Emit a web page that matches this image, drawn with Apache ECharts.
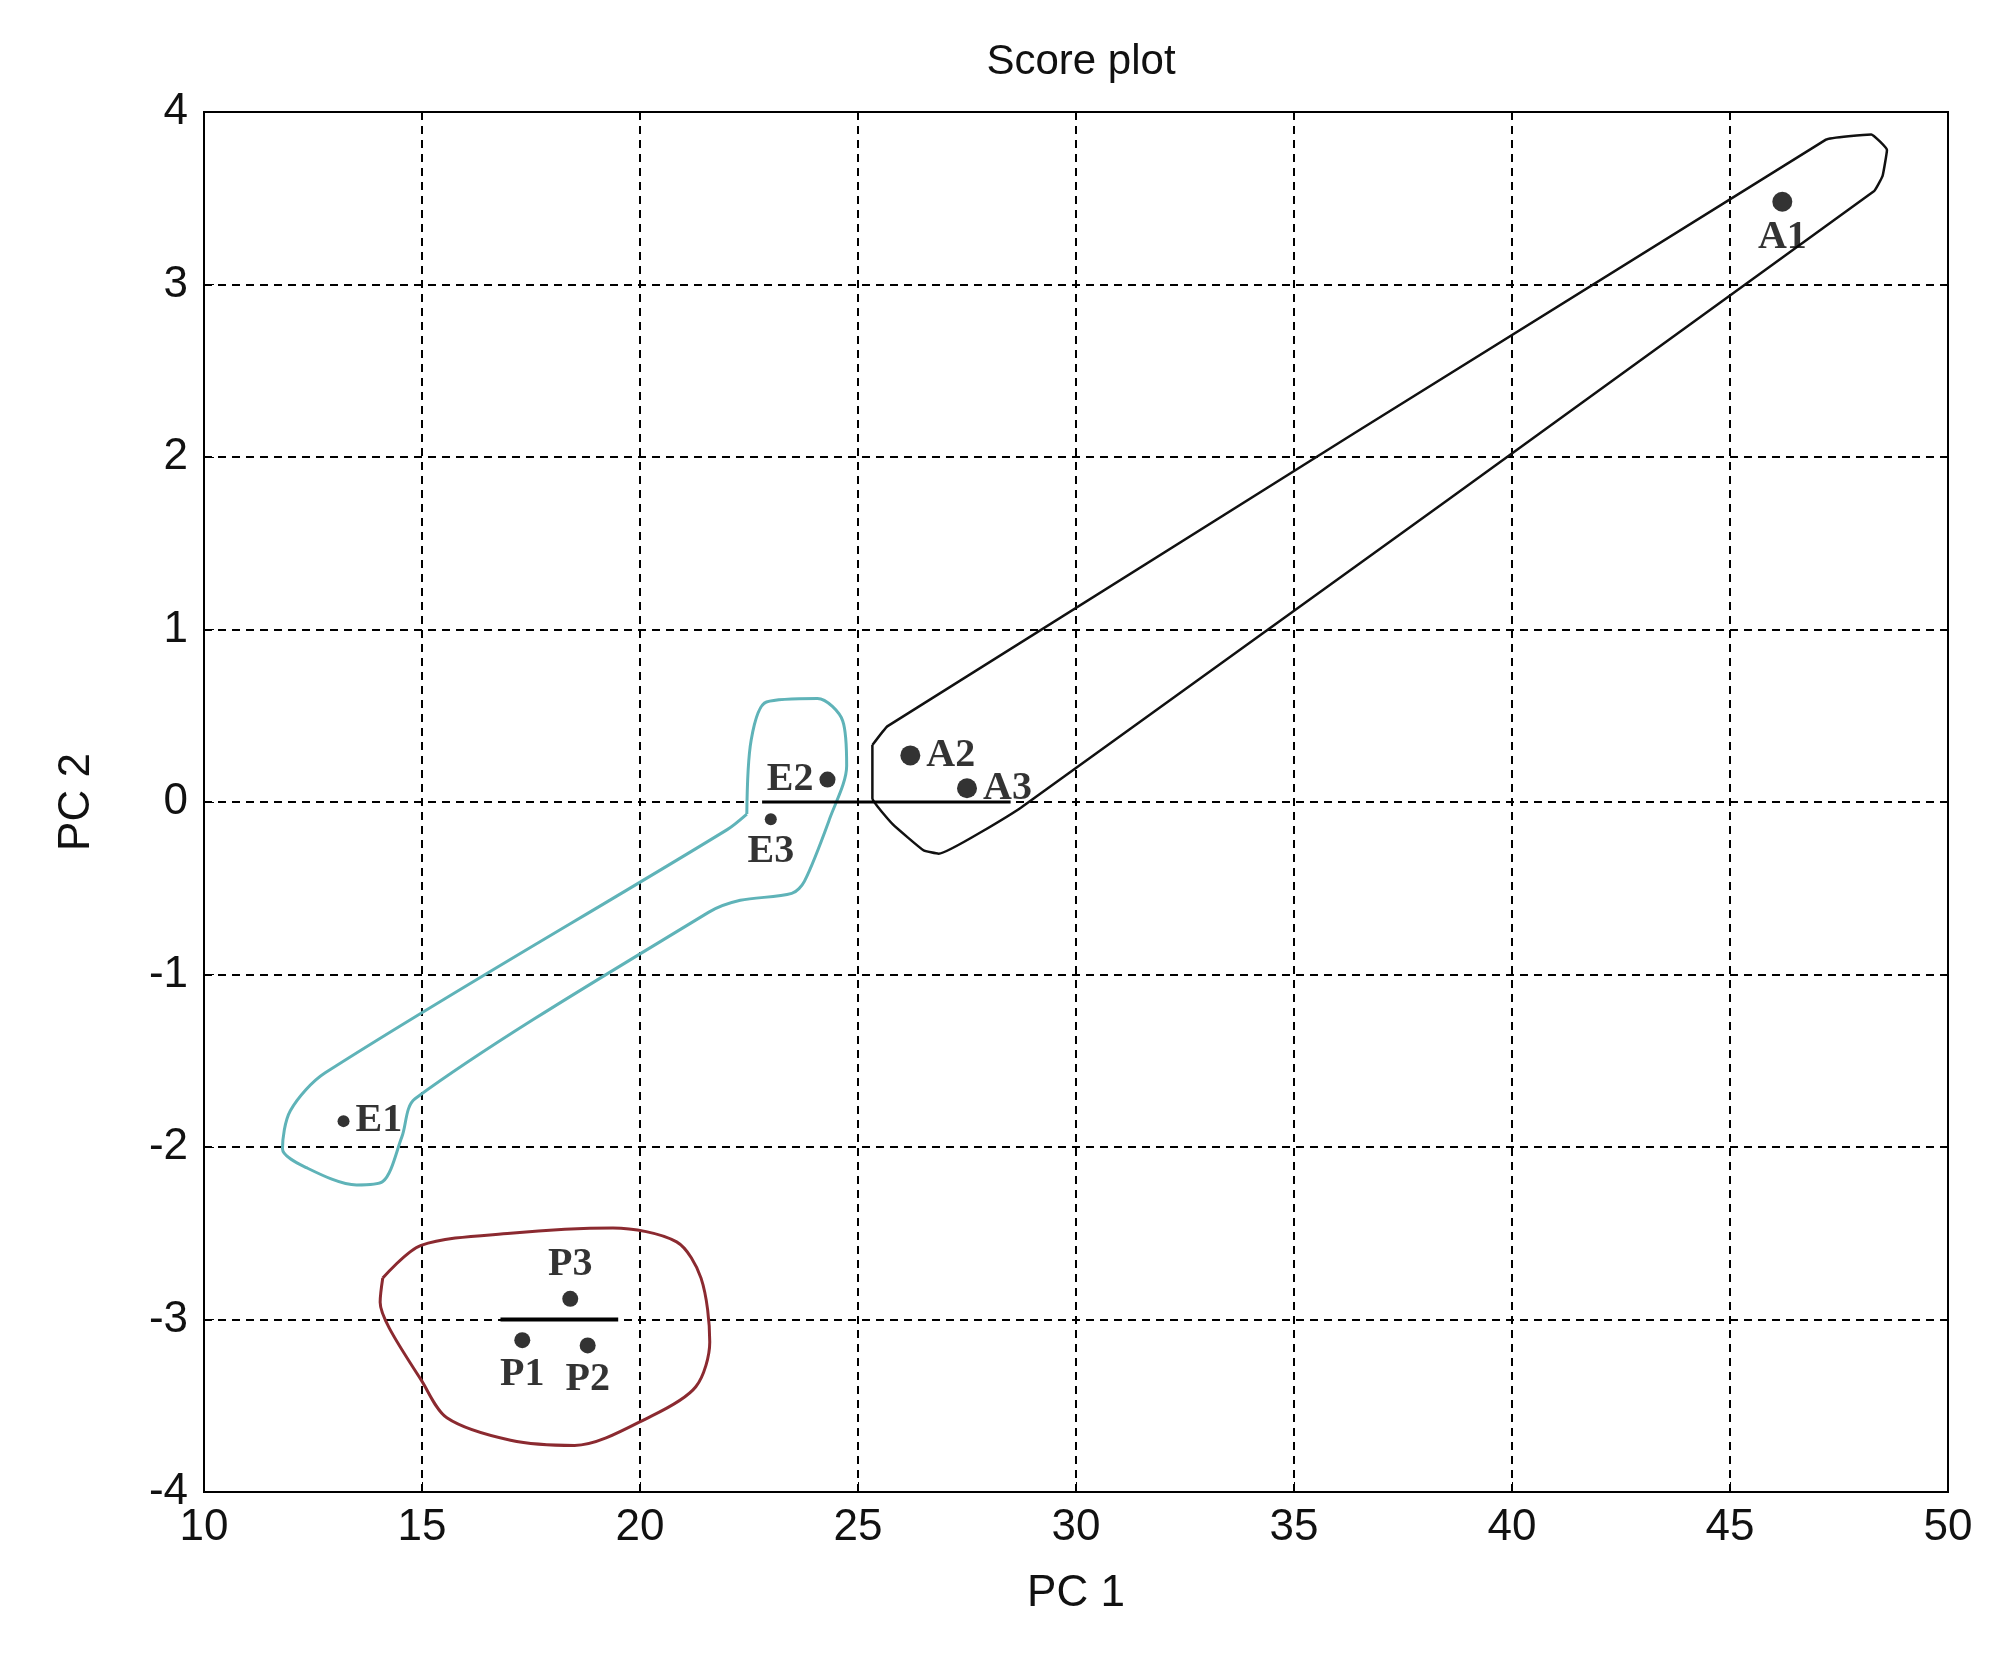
<!DOCTYPE html>
<html><head><meta charset="utf-8">
<script src="https://cdn.jsdelivr.net/npm/echarts@6/dist/echarts.min.js"></script>
<style>html,body{margin:0;background:#fff}#c{width:2003px;height:1659px}</style>
</head><body><div id="c"></div>
<script>
// Score points
const names = ['A1', 'A2', 'A3', 'E2', 'E3', 'E1', 'P1', 'P2', 'P3'];
const pc1 = [46.2, 26.2, 27.5, 24.3, 23.0, 13.2, 17.3, 18.8, 18.4];
const pc2 = [3.48, 0.27, 0.08, 0.13, -0.1, -1.85, -3.12, -3.15, -2.88];
const labelPos = ['bottom', 'right', 'right', 'left', 'bottom', 'right', 'bottom', 'bottom', 'top'];

// Hand-drawn group outlines
const outlineA = [[25.33,0.33],[25.68,0.44],[47.2,3.84],[48.24,3.87],[48.6,3.78],[48.5,3.63],[48.3,3.54],
  [28.75,-0.03],[26.85,-0.3],[26.5,-0.28],[25.8,-0.13],[25.33,0.02],[25.33,0.33]];
const outlineE = [[22.45,-0.07],[22.55,0.36],[22.9,0.58],[24.07,0.6],[24.65,0.47],[24.74,0.21],[24.36,-0.09],
  [23.77,-0.46],[23.48,-0.53],[22.3,-0.57],[21.57,-0.64],[14.84,-1.72],[14.54,-1.94],[14.1,-2.2],[13.5,-2.22],
  [12.35,-2.12],[11.8,-2.01],[11.98,-1.79],[12.78,-1.57],[22.0,-0.16],[22.45,-0.07]];
const outlineP = [[14.1,-2.76],[14.98,-2.57],[17.03,-2.5],[19.38,-2.47],[20.84,-2.55],[21.4,-2.76],[21.6,-3.13],
  [21.28,-3.39],[20.26,-3.56],[18.5,-3.73],[17.03,-3.7],[15.57,-3.57],[14.98,-3.35],[14.25,-3.05],[14.04,-2.9],[14.1,-2.76]];
const segP = [[16.8,-3],[19.5,-3]];
const segZero = [[22.8,0],[28.5,0]];

const chart = echarts.init(document.getElementById('c'));
const outline = (data, color, w, s) => ({ type: 'line', data, symbol: 'none', smooth: s,
  lineStyle: { color, width: w }, silent: true, z: 3 });
const font = { fontFamily: 'Liberation Sans', fontSize: 44, color: '#111' };

chart.setOption({
  backgroundColor: '#fff',
  animation: false,
  title: { text: 'Score plot', left: 1076, top: 36, textAlign: 'center',
    textStyle: Object.assign({ fontWeight: 'normal' }, font, { fontSize: 42 }) },
  grid: { left: 204, right: 55, top: 112, bottom: 167, show: true,
    borderColor: '#000', borderWidth: 2, backgroundColor: 'transparent' },
  xAxis: {
    type: 'value', min: 10, max: 50, interval: 5,
    name: 'PC 1', nameLocation: 'middle', nameGap: 80, nameTextStyle: font,
    axisLine: { onZero: false, lineStyle: { color: '#000', width: 2 } },
    axisTick: { inside: true, length: 10, lineStyle: { color: '#000' } },
    axisLabel: Object.assign({ margin: 14 }, font),
    splitLine: { lineStyle: { color: '#000', type: [8, 6], width: 2 } }
  },
  yAxis: {
    type: 'value', min: -4, max: 4, interval: 1,
    name: 'PC 2', nameLocation: 'middle', nameGap: 105, nameRotate: 90, nameTextStyle: font,
    axisLine: { onZero: false, lineStyle: { color: '#000', width: 2 } },
    axisTick: { inside: true, length: 10, lineStyle: { color: '#000' } },
    axisLabel: Object.assign({ margin: 16 }, font),
    splitLine: { lineStyle: { color: '#000', type: [8, 6], width: 2 } }
  },
  series: [
    outline(outlineA, '#111', 2.5, 0.1),
    outline(outlineE, '#5fb3b8', 3, 0.3),
    outline(outlineP, '#8b2a30', 3, 0.3),
    { type: 'line', data: segP, symbol: 'none', lineStyle: { color: '#000', width: 4 }, silent: true },
    { type: 'line', data: segZero, symbol: 'none', lineStyle: { color: '#000', width: 3 }, silent: true },
    {
      type: 'scatter', z: 5,
      data: names.map((n, i) => ({ value: [pc1[i], pc2[i]], name: n,
        symbolSize: n[0] === 'A' ? 20 : (n === 'E3' || n === 'E1' ? 12 : 16),
        label: { show: true, position: labelPos[i], formatter: n } })),
      itemStyle: { color: '#000' },
      label: { fontFamily: 'Liberation Serif', fontWeight: 'bold', fontSize: 40, color: '#000', distance: 6 }
    }
  ]
});
</script></body></html>
